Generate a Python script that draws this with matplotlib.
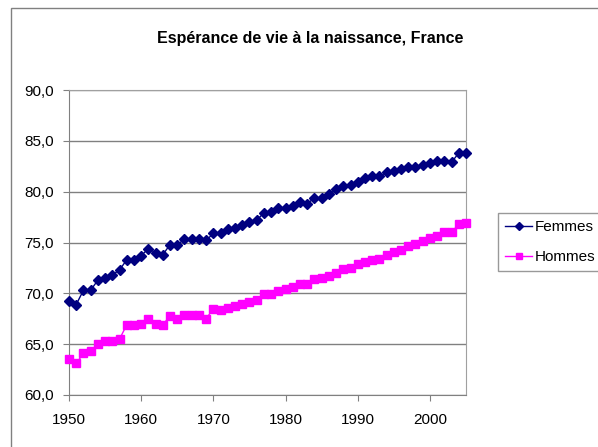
import matplotlib
matplotlib.use("Agg")
import matplotlib.pyplot as plt
from matplotlib.patches import Rectangle
from matplotlib.ticker import FuncFormatter, MultipleLocator

plt.rcParams['font.family'] = ['Liberation Sans', 'DejaVu Sans']

# years 1950 -> 2005
years = list(range(1950, 2006))

femmes = [69.2, 68.9, 70.3, 70.3, 71.3, 71.5, 71.8, 72.3, 73.3, 73.3,
          73.7, 74.4, 74.0, 73.8, 74.8, 74.8, 75.3, 75.3, 75.3, 75.2,
          75.9, 75.9, 76.3, 76.4, 76.7, 77.0, 77.2, 77.9, 78.0, 78.4,
          78.4, 78.6, 79.0, 78.8, 79.4, 79.4, 79.8, 80.3, 80.6, 80.7,
          81.0, 81.3, 81.5, 81.5, 81.9, 82.0, 82.2, 82.4, 82.4, 82.6,
          82.8, 83.0, 83.0, 82.9, 83.8, 83.8]

hommes = [63.5, 63.1, 64.1, 64.3, 65.0, 65.3, 65.3, 65.5, 66.9, 66.9,
          67.0, 67.5, 67.0, 66.9, 67.8, 67.5, 67.9, 67.9, 67.9, 67.5,
          68.5, 68.4, 68.6, 68.8, 69.0, 69.1, 69.3, 69.9, 69.9, 70.2,
          70.4, 70.6, 70.9, 70.9, 71.4, 71.5, 71.7, 72.0, 72.4, 72.5,
          72.9, 73.1, 73.3, 73.4, 73.8, 74.1, 74.3, 74.7, 74.9, 75.1,
          75.4, 75.6, 76.0, 76.0, 76.8, 76.9]

fig = plt.figure(figsize=(5.98, 4.47), dpi=100)
ax = fig.add_axes([69/598, 1 - 395/447, (466 - 69)/598, (395 - 90)/447])

# chart area border (goes off the right/bottom edge like the original)
fig.patches.append(Rectangle((11/598, -0.1), 1.2, 1 - 8/447 + 0.1,
                             transform=fig.transFigure, fill=False,
                             edgecolor='#808080', linewidth=1))

ax.plot(years, femmes, color='#000080', marker='D', markersize=5.5,
        linewidth=1, label='Femmes', clip_on=False, zorder=3)
ax.plot(years, hommes, color='#FF00FF', marker='s', markersize=5.5,
        linewidth=1, label='Hommes', clip_on=False, zorder=3)

ax.set_xlim(1950, 2005)
ax.set_ylim(60, 90)
ax.xaxis.set_major_locator(MultipleLocator(10))
ax.yaxis.set_major_locator(MultipleLocator(5))
ax.yaxis.set_major_formatter(FuncFormatter(lambda v, p: f"{v:.1f}".replace('.', ',')))
ax.grid(axis='y', color='#808080', linewidth=1)
ax.set_axisbelow(True)

for s in ['top', 'right']:
    ax.spines[s].set_color('#a0a0a0')
for s in ['left', 'bottom']:
    ax.spines[s].set_color('#808080')
ax.tick_params(direction='out', length=4, color='#808080', labelsize=11)
ax.tick_params(axis='y', pad=7)
ax.tick_params(axis='x', pad=9)

fig.text(310/598, 1 - 38/447, "Espérance de vie à la naissance, France",
         ha='center', va='center', fontsize=11.5, fontweight='bold')

leg = ax.legend(loc='upper left', bbox_to_anchor=(498/598, 1 - 213/447),
                bbox_transform=fig.transFigure, fancybox=False,
                edgecolor='#808080', fontsize=11, handlelength=1.8,
                borderaxespad=0, labelspacing=1.05, borderpad=0.45,
                handletextpad=0.15, markerscale=0.8)
leg.get_frame().set_linewidth(1)

fig.savefig("out.png", dpi=100)
